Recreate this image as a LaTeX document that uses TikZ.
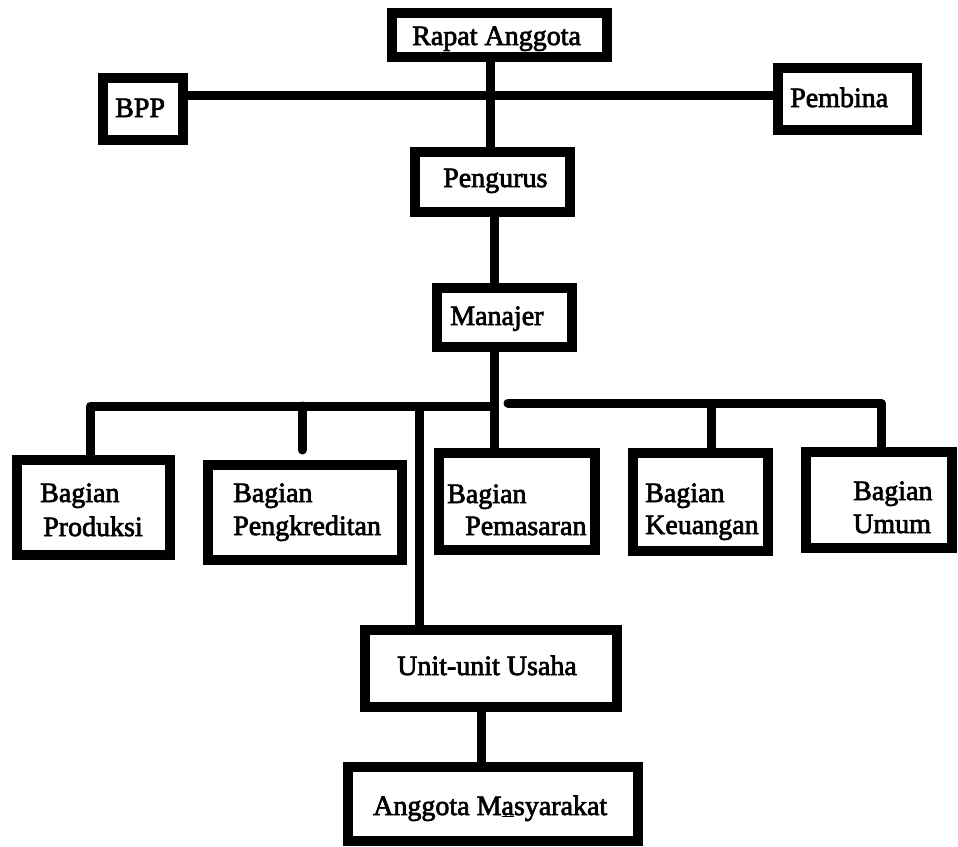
\documentclass[tikz,border=0pt]{standalone}
\usepackage{fontspec}
\setmainfont{Liberation Serif}
\newfontfamily\heavy[FakeBold=2.5]{Liberation Serif}
\begin{document}
\begin{tikzpicture}[x=1pt,y=-1pt,
  box/.style={draw=black, line width=10pt, rectangle, inner sep=0pt},
  conn/.style={draw=black, line width=9pt, line join=round},
  lbl/.style={anchor=base west, inner sep=0pt, font=\heavy\fontsize{28}{34}\selectfont}]
\useasboundingbox[fill=white] (0,0) rectangle (958,846);

% boxes
\node[box, minimum width=215pt, minimum height=44pt] (rapat) at (499.5,35) {};
\node[box, minimum width=80pt, minimum height=62pt] (bpp) at (143,109) {};
\node[box, minimum width=139pt, minimum height=62pt] (pembina) at (847.5,99) {};
\node[box, minimum width=155pt, minimum height=60pt] (pengurus) at (492.5,182) {};
\node[box, minimum width=135pt, minimum height=59pt] (manajer) at (504.5,317.5) {};
\node[box, minimum width=153pt, minimum height=95pt] (produksi) at (93.5,507.5) {};
\node[box, minimum width=194pt, minimum height=95pt] (kredit) at (305,512.5) {};
\node[box, minimum width=156pt, minimum height=97pt] (pemasaran) at (517,501.5) {};
\node[box, minimum width=135pt, minimum height=98pt] (keuangan) at (700.5,502) {};
\node[box, minimum width=146pt, minimum height=96pt] (umum) at (879,500) {};
\node[box, minimum width=252pt, minimum height=77pt] (unit) at (491,668.5) {};
\node[box, minimum width=290pt, minimum height=74pt] (anggota) at (493,804) {};

% labels
\node[lbl] (t-rapat) at (412,45) {Rapat Anggota};
\node[lbl] (t-bpp) at (115,117) {BPP};
\node[lbl] (t-pembina) at (790,107) {Pembina};
\node[lbl] (t-pengurus) at (443,187) {Pengurus};
\node[lbl] (t-manajer) at (450,325) {Manajer};
\node[lbl] (t-prod1) at (40,502) {Bagian};
\node[lbl] (t-prod2) at (43,536) {Produksi};
\node[lbl] (t-kred1) at (233,502) {Bagian};
\node[lbl] (t-kred2) at (233,535) {Pengkreditan};
\node[lbl] (t-pem1) at (447,503) {Bagian};
\node[lbl] (t-pem2) at (465,535) {Pemasaran};
\node[lbl] (t-keu1) at (645,502) {Bagian};
\node[lbl] (t-keu2) at (645,534) {Keuangan};
\node[lbl] (t-umum1) at (853,500) {Bagian};
\node[lbl] (t-umum2) at (853,533) {Umum};
\node[lbl] (t-unit) at (397,675) {Unit-unit Usaha};
\node[lbl] (t-anggota) at (373,815) {Anggota M\underline{a}syarakat};

% connector helper coordinates
\coordinate (xa) at (490,0);
\coordinate (ya) at (0,95);
\coordinate (xb) at (494,0);
\coordinate (busM) at (494,406);
\coordinate (busL) at (90,406);
\coordinate (stubTop) at (302,406);
\coordinate (stubEnd) at (302,450);
\coordinate (busR1) at (508,403);
\coordinate (busR2) at (881,403);
\coordinate (keuTop) at (711,403);
\coordinate (unitTop) at (419,406);
\coordinate (xc) at (481,0);

% connectors
\draw[conn] (rapat.south -| xa) -- (pengurus.north -| xa);
\draw[conn] (bpp.east |- ya) -- (pembina.west |- ya);
\draw[conn] (pengurus.south -| xb) -- (manajer.north -| xb);
\draw[conn] (manajer.south -| xb) -- (busM) -- (busL) -- (produksi.north -| busL);
\draw[conn] (busM) -- (pemasaran.north -| busM);
\draw[conn, line cap=round] (stubTop) -- (stubEnd);
\draw[conn, line cap=round] (busR1) -- (busR2) -- (umum.north -| busR2);
\draw[conn] (keuTop) -- (keuangan.north -| keuTop);
\draw[conn] (unitTop) -- (unit.north -| unitTop);
\draw[conn] (unit.south -| xc) -- (anggota.north -| xc);
\end{tikzpicture}
\end{document}
